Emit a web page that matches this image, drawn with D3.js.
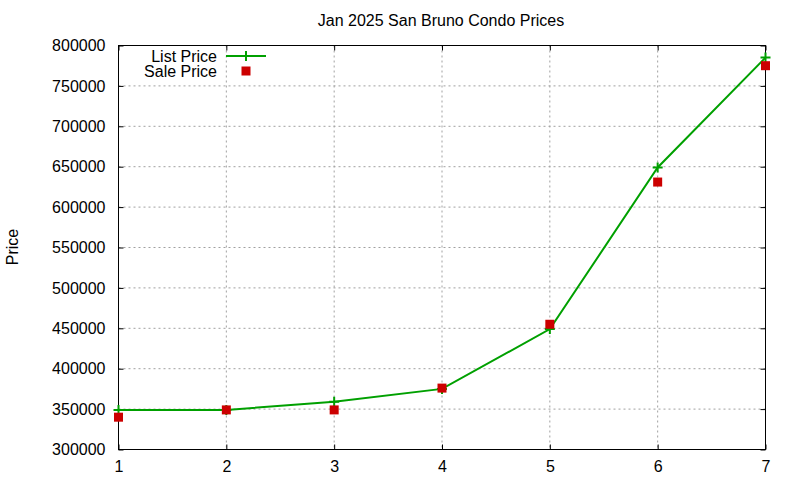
<!DOCTYPE html>
<html>
<head>
<meta charset="utf-8">
<script src="https://cdn.jsdelivr.net/npm/d3@7"></script>
<style>
  body { margin: 0; background: #fff; }
  text { font-family: "Liberation Sans", Arial, sans-serif; fill: #000; }
</style>
</head>
<body>
<div class="canvas"></div>
<script>
// data
const months = [1, 2, 3, 4, 5, 6, 7];
const listPrice = [349000, 349000, 359000, 375000, 449000, 649000, 785000];
const salePrice = [340000, 349000, 349000, 376000, 455000, 631000, 775000];
const yTicks = [300000, 350000, 400000, 450000, 500000, 550000, 600000, 650000, 700000, 750000, 800000];

const width = 800;
const height = 480;
const margin = { top: 45.5, right: 34.5, bottom: 30.5, left: 118.5 };
const graphWidth = width - margin.left - margin.right;
const graphHeight = height - margin.top - margin.bottom;

const svg = d3.select('.canvas').append('svg')
  .attr('width', width)
  .attr('height', height);

const graph = svg.append('g')
  .attr('transform', `translate(${margin.left}, ${margin.top})`);

const x = d3.scaleLinear().domain([1, 7]).range([0, graphWidth]);
const y = d3.scaleLinear().domain([300000, 800000]).range([graphHeight, 0]);

// grid
const grid = graph.append('g')
  .attr('stroke', '#a0a0a0')
  .attr('stroke-width', 1)
  .attr('stroke-dasharray', '2,3');

grid.selectAll('.gx').data(months.slice(1, -1)).enter().append('line')
  .attr('x1', d => x(d)).attr('x2', d => x(d))
  .attr('y1', 0).attr('y2', graphHeight);

grid.selectAll('.gy').data(yTicks.slice(1, -1)).enter().append('line')
  .attr('x1', 0).attr('x2', graphWidth)
  .attr('y1', d => y(d)).attr('y2', d => y(d));

// axes (gnuplot style: inward ticks, mirrored)
const tick = 5;
const xAxisGroup = graph.append('g').attr('transform', `translate(0, ${graphHeight})`)
  .call(d3.axisBottom(x).tickValues(months).tickFormat(d3.format('d')).tickSizeInner(-tick).tickSizeOuter(0).tickPadding(tick + 6));
const xTopGroup = graph.append('g')
  .call(d3.axisTop(x).tickValues(months).tickFormat('').tickSizeInner(-tick).tickSizeOuter(0));
const yAxisGroup = graph.append('g')
  .call(d3.axisLeft(y).tickValues(yTicks).tickFormat(d3.format('d')).tickSizeInner(-tick).tickSizeOuter(0).tickPadding(tick + 8));
const yRightGroup = graph.append('g').attr('transform', `translate(${graphWidth}, 0)`)
  .call(d3.axisRight(y).tickValues(yTicks).tickFormat('').tickSizeInner(-tick).tickSizeOuter(0));

[xAxisGroup, xTopGroup, yAxisGroup, yRightGroup].forEach(g => {
  g.select('.domain').remove();
  g.selectAll('line').attr('stroke', '#000');
  g.selectAll('text').attr('font-size', '16px').attr('font-family', '"Liberation Sans", Arial, sans-serif').attr('fill', '#000');
});

// border
graph.append('rect')
  .attr('width', graphWidth).attr('height', graphHeight)
  .attr('fill', 'none').attr('stroke', '#000').attr('stroke-width', 1);

// list price line
const line = d3.line().x((d, i) => x(months[i])).y(d => y(d));
graph.append('path')
  .datum(listPrice)
  .attr('d', line)
  .attr('fill', 'none')
  .attr('stroke', '#00a000')
  .attr('stroke-width', 2);

const plus = d3.symbol().type(d3.symbolCross);
const cross = (sel) => sel.append('path')
  .attr('d', 'M-5,0H5M0,-5V5')
  .attr('stroke', '#00a000')
  .attr('stroke-width', 2);

graph.selectAll('.lp').data(listPrice).enter().append('g')
  .attr('transform', (d, i) => `translate(${x(months[i])}, ${y(d)})`)
  .call(cross);

// sale price points
graph.selectAll('.sp').data(salePrice).enter().append('rect')
  .attr('x', (d, i) => x(months[i]) - 4.5)
  .attr('y', d => y(d) - 4.5)
  .attr('width', 9).attr('height', 9)
  .attr('fill', '#cc0000');

// legend
const legend = svg.append('g');
legend.append('text').attr('x', 217).attr('y', 61.5)
  .attr('text-anchor', 'end').attr('font-size', '16px').text('List Price');
legend.append('line').attr('x1', 226).attr('x2', 266).attr('y1', 56).attr('y2', 56)
  .attr('stroke', '#00a000').attr('stroke-width', 2);
legend.append('g').attr('transform', 'translate(246, 56)').call(cross);
legend.append('text').attr('x', 217).attr('y', 77)
  .attr('text-anchor', 'end').attr('font-size', '16px').text('Sale Price');
legend.append('rect').attr('x', 241.5).attr('y', 66.5).attr('width', 9).attr('height', 9)
  .attr('fill', '#cc0000');

// title and y label
svg.append('text').attr('x', 441).attr('y', 26)
  .attr('text-anchor', 'middle').attr('font-size', '16px')
  .text('Jan 2025 San Bruno Condo Prices');
svg.append('text')
  .attr('transform', 'translate(18, 247) rotate(-90)')
  .attr('text-anchor', 'middle').attr('font-size', '16px')
  .text('Price');
</script>
</body>
</html>
